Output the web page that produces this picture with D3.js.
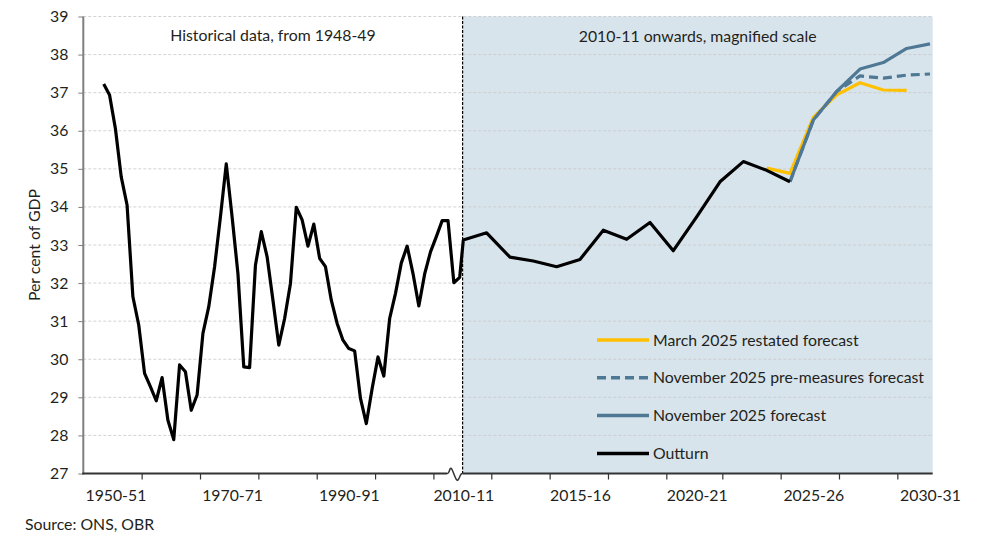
<!DOCTYPE html>
<html>
<head>
<meta charset="utf-8">
<script src="https://cdn.jsdelivr.net/npm/d3@7"></script>
<style>
  body { margin: 0; background: #fff; }
  svg text { font-family: Lato, "Open Sans", sans-serif; fill: #231f20; }
</style>
</head>
<body>
<svg id="chart"></svg>
<script>
// historical outturn, 1948-49 to 2009-10 (per cent of GDP)
const histStart = 1948;
const histValues = [
  37.23, 36.94, 36.06, 34.79, 34.05, 31.64, 30.90, 29.63, 29.28, 28.91,
  29.52, 28.40, 27.89, 29.85, 29.67, 28.66, 29.06, 30.68, 31.38, 32.43,
  33.74, 35.13, 33.74, 32.25, 29.80, 29.78, 32.47, 33.35, 32.69, 31.55,
  30.37, 31.07, 31.99, 33.99, 33.66, 32.97, 33.55, 32.65, 32.43, 31.55,
  30.94, 30.50, 30.28, 30.22, 28.97, 28.31, 29.23, 30.06, 29.56, 31.07,
  31.73, 32.53, 32.97, 32.25, 31.40, 32.24, 32.82, 33.22, 33.64, 33.64,
  32.01, 32.15
];
// magnified panel, 2010-11 onwards
const outturnStart = 2010;
const outturnValues = [33.13, 33.32, 32.68, 32.58, 32.43, 32.62, 33.39, 33.15,
  33.59, 32.85, 33.74, 34.66, 35.19, 34.96, 34.66];
const marchStart = 2023;
const marchValues = [35.02, 34.88, 36.35, 36.94, 37.26, 37.07, 37.06];
const novStart = 2024;
const novValues = [34.66, 36.28, 37.03, 37.62, 37.79, 38.16, 38.28];
const preStart = 2024;
const preValues = [34.66, 36.28, 37.03, 37.44, 37.38, 37.46, 37.49];

const yTicks = [27, 28, 29, 30, 31, 32, 33, 34, 35, 36, 37, 38, 39];
const leftTickMarks = [1954.5, 1964.5, 1974.5, 1984.5, 1994.5, 2004.5];
const leftLabels = [1950, 1970, 1990];
const rightTickMarks = [2011.2, 2013.7, 2016.2, 2018.7, 2021.1, 2023.6, 2026.1, 2028.6];
const rightLabels = [2010, 2015, 2020, 2025, 2030];

const legendItems = [
  { name: "March 2025 restated forecast", color: "#ffc000", dash: null },
  { name: "November 2025 pre-measures forecast", color: "#4f7894", dash: "9,5" },
  { name: "November 2025 forecast", color: "#4f7894", dash: null },
  { name: "Outturn", color: "#000000", dash: null }
];

const fy = yr => yr + "-" + String((yr + 1) % 100).padStart(2, "0");

const width = 984, height = 540;
const plot = { top: 16.5, bottom: 473.5, left: 83.3, split: 462.6, right: 932.7 };
const fontSize = "15.8px";

const svg = d3.select("#chart").attr("width", width).attr("height", height);

const y = d3.scaleLinear().domain([27, 39]).range([plot.bottom, plot.top]);
const xL = d3.scaleLinear().domain([1944.5, 2009.5]).range([plot.left, plot.split]);
const xR = d3.scaleLinear().domain([2010, 2030]).range([463.3, 930]);

// shaded magnified panel
svg.append("rect")
  .attr("x", plot.split).attr("y", plot.top)
  .attr("width", plot.right - plot.split).attr("height", plot.bottom - plot.top)
  .attr("fill", "#d8e4ec");

// gridlines
svg.append("g")
  .selectAll("line")
  .data(yTicks.slice(1))
  .enter().append("line")
  .attr("x1", plot.left).attr("x2", plot.right)
  .attr("y1", d => y(d)).attr("y2", d => y(d))
  .attr("stroke", "#c8c8c8")
  .attr("stroke-opacity", 0.8)
  .attr("stroke-dasharray", "3,2");

// dashed separator
svg.append("line")
  .attr("x1", plot.split).attr("x2", plot.split)
  .attr("y1", plot.top).attr("y2", plot.bottom)
  .attr("stroke", "#000").attr("stroke-width", 1.2)
  .attr("stroke-dasharray", "3,1.5");

// y axis
svg.append("g")
  .attr("transform", "translate(" + plot.left + ",0)")
  .call(d3.axisLeft(y).tickValues(yTicks).tickSize(5).tickPadding(10))
  .call(g => g.select(".domain").remove())
  .call(g => g.selectAll(".tick line").attr("stroke", "#7f7f7f"))
  .call(g => g.selectAll(".tick text").style("font-size", fontSize));

svg.append("line")
  .attr("x1", plot.left).attr("x2", plot.left)
  .attr("y1", plot.top).attr("y2", plot.bottom + 1)
  .attr("stroke", "#7f7f7f").attr("stroke-width", 2);

svg.append("text")
  .attr("transform", "translate(40," + ((plot.top + plot.bottom) / 2) + ") rotate(-90)")
  .attr("text-anchor", "middle")
  .style("font-size", fontSize)
  .text("Per cent of GDP");

// x axes: tick marks and labels
const xAxisG = svg.append("g").attr("transform", "translate(0," + plot.bottom + ")");
xAxisG.append("g")
  .call(d3.axisBottom(xL).tickValues(leftTickMarks).tickSize(6).tickFormat(""))
  .call(g => g.select(".domain").remove());
xAxisG.append("g")
  .call(d3.axisBottom(xR).tickValues(rightTickMarks).tickSize(6).tickFormat(""))
  .call(g => g.select(".domain").remove());
xAxisG.append("g")
  .call(d3.axisBottom(xL).tickValues(leftLabels).tickSize(0).tickPadding(16).tickFormat(fy))
  .call(g => g.select(".domain").remove());
xAxisG.append("g")
  .call(d3.axisBottom(xR).tickValues(rightLabels).tickSize(0).tickPadding(16).tickFormat(fy))
  .call(g => g.select(".domain").remove());
xAxisG.selectAll(".tick line").attr("stroke", "#333").attr("stroke-width", 1.2);
xAxisG.selectAll(".tick text").style("font-size", fontSize);

// bottom axis line with break symbol
svg.append("line")
  .attr("x1", plot.left - 1).attr("x2", 447)
  .attr("y1", plot.bottom).attr("y2", plot.bottom)
  .attr("stroke", "#333").attr("stroke-width", 2);
svg.append("line")
  .attr("x1", plot.split).attr("x2", plot.right)
  .attr("y1", plot.bottom).attr("y2", plot.bottom)
  .attr("stroke", "#333").attr("stroke-width", 2);
svg.append("path")
  .attr("d", d3.line().curve(d3.curveBasis)([
    [447, plot.bottom], [449, plot.bottom], [451, plot.bottom - 10],
    [457, plot.bottom + 12], [460.5, plot.bottom], [plot.split, plot.bottom]
  ]))
  .attr("fill", "none").attr("stroke", "#333").attr("stroke-width", 1.5);

// series
const line = d3.line().x(d => d[0]).y(d => y(d[1]));
const pts = (start, vals, xs) => vals.map((v, i) => [xs(start + i), v]);

function drawSeries(data, color, dash) {
  svg.append("path")
    .datum(data)
    .attr("d", line)
    .attr("fill", "none")
    .attr("stroke", color)
    .attr("stroke-width", 3.2)
    .attr("stroke-linejoin", "round")
    .attr("stroke-dasharray", dash);
}

drawSeries(pts(marchStart, marchValues, xR), legendItems[0].color, null);
drawSeries(pts(preStart, preValues, xR), legendItems[1].color, legendItems[1].dash);
drawSeries(pts(novStart, novValues, xR), legendItems[2].color, null);
drawSeries(pts(histStart, histValues, xL).concat(pts(outturnStart, outturnValues, xR)), "#000", null);

// panel titles
svg.append("text")
  .attr("x", (plot.left + plot.split) / 2).attr("y", 41)
  .attr("text-anchor", "middle").style("font-size", fontSize)
  .text("Historical data, from 1948-49");
svg.append("text")
  .attr("x", (plot.split + plot.right) / 2).attr("y", 42)
  .attr("text-anchor", "middle").style("font-size", fontSize)
  .text("2010-11 onwards, magnified scale");

// legend
const legend = svg.append("g").attr("transform", "translate(597,340)");
const item = legend.selectAll("g")
  .data(legendItems)
  .enter().append("g")
  .attr("transform", (d, i) => "translate(0," + (i * 37.8) + ")");
item.append("line")
  .attr("x1", 0).attr("x2", 52)
  .attr("stroke", d => d.color)
  .attr("stroke-width", 3.5)
  .attr("stroke-dasharray", d => d.dash);
item.append("text")
  .attr("x", 56).attr("dy", "0.35em")
  .style("font-size", fontSize)
  .text(d => d.name);

// source
svg.append("text")
  .attr("x", 25).attr("y", 530)
  .style("font-size", fontSize)
  .text("Source: ONS, OBR");
</script>
</body>
</html>
